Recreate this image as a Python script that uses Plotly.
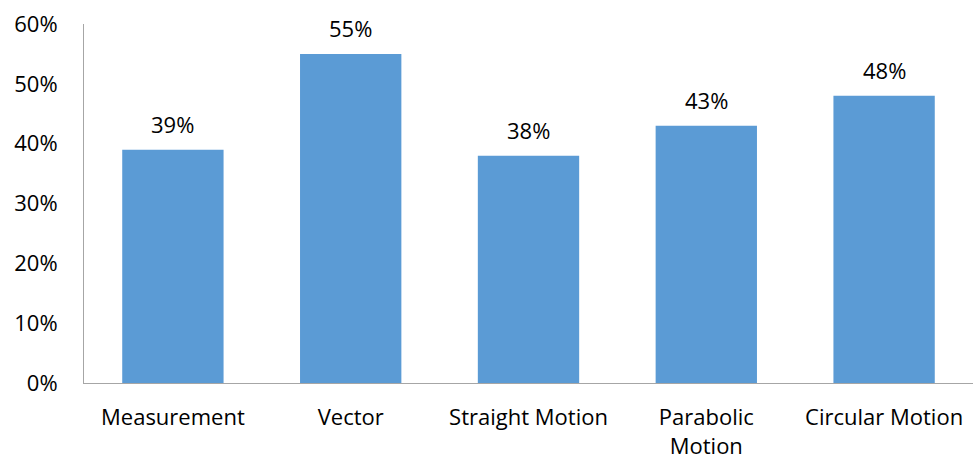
import plotly.graph_objects as go

categories = ["Measurement", "Vector", "Straight Motion", "Parabolic<br>Motion", "Circular Motion"]
values = [0.39, 0.55, 0.38, 0.43, 0.48]
tick_vals = [0, 0.1, 0.2, 0.3, 0.4, 0.5, 0.6]
tick_text = ["0%", "10%", "20%", "30%", "40%", "50%", "60%"]

FONT = "Open Sans"
FS = 22

fig = go.Figure()
fig.add_trace(go.Bar(
    x=categories, y=values,
    marker=dict(color="#5B9BD5", line=dict(width=0)),
    width=0.57,
))
for c, v in zip(categories, values):
    fig.add_annotation(x=c, y=v, text=f"{round(v*100)}%", showarrow=False,
                       yanchor="bottom", yshift=9,
                       font=dict(family=FONT, size=FS, color="#000000"))

fig.update_layout(
    width=973, height=462,
    margin=dict(l=84, r=0, t=24, b=79),
    paper_bgcolor="white", plot_bgcolor="white",
    showlegend=False,
    font=dict(family=FONT, size=FS, color="#000000"),
    bargap=0.43,
)
fig.update_yaxes(range=[0, 0.6], tickvals=tick_vals, ticktext=tick_text,
                 showgrid=False, zeroline=False, showline=True,
                 linecolor="#A6A6A6", linewidth=1, ticks="",
                 ticklabelstandoff=21, tickfont=dict(family=FONT, size=FS))
fig.update_xaxes(showgrid=False, showline=True, linecolor="#A6A6A6", linewidth=1,
                 ticks="", ticklabelstandoff=15, tickfont=dict(family=FONT, size=FS))

fig.write_html("out.html")
